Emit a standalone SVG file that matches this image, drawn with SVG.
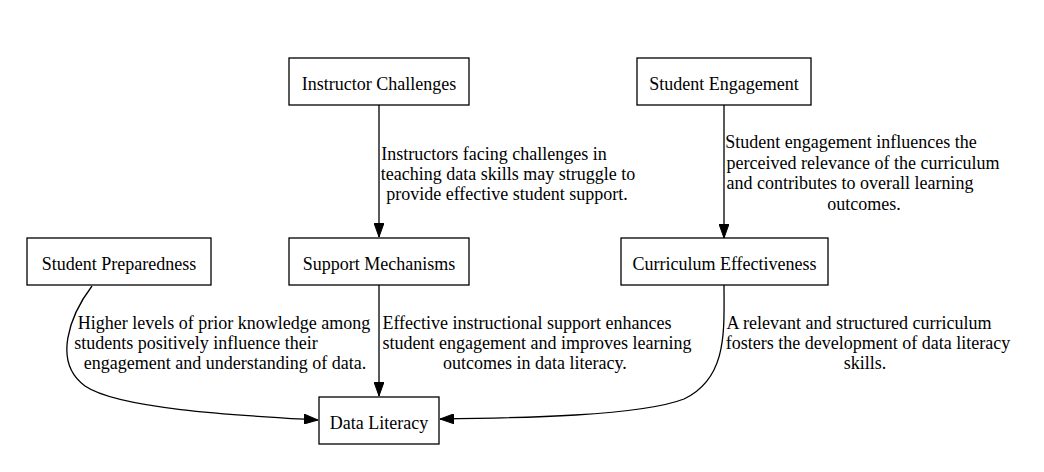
<svg xmlns="http://www.w3.org/2000/svg" width="1044" height="472" viewBox="0 0 1044 472">
<style>
.node rect{fill:#ffffff;stroke:#000000;stroke-width:1.3}
.node text{font-family:"Liberation Serif","Times New Roman",serif;font-size:18px;fill:#000;text-anchor:middle}
.lbl{font-family:"Liberation Serif","Times New Roman",serif;font-size:18px;fill:#000;text-anchor:middle}
.edge{fill:none;stroke:#000;stroke-width:1.3;marker-end:url(#arr)}
</style>
<defs>
<marker id="arr" viewBox="0 0 14 10" refX="14" refY="5" markerWidth="14" markerHeight="10" markerUnits="userSpaceOnUse" orient="auto">
<path d="M0,0 L14,5 L0,10 z" fill="#000" stroke="#000" stroke-width="1"/>
</marker>
</defs>
<rect width="1044" height="472" fill="#ffffff"/>
<g id="connectors">
<path class="edge" d="M379,105 L379,237"/>
<path class="edge" d="M724,105 L724,238"/>
<path class="edge" d="M92,286 C70,315 52,362 85,386 C120,410 250,416 318,420"/>
<path class="edge" d="M379,285 L379,396"/>
<path class="edge" d="M724,285 C724,330 728,378 684,399 C640,416 520,418 440,419"/>
<text class="lbl" x="494" y="160">Instructors facing challenges in</text>
<text class="lbl" x="508" y="180">teaching data skills may struggle to</text>
<text class="lbl" x="507" y="200">provide effective student support.</text>
<text class="lbl" x="851" y="148">Student engagement influences the</text>
<text class="lbl" x="863" y="169">perceived relevance of the curriculum</text>
<text class="lbl" x="850" y="189">and contributes to overall learning</text>
<text class="lbl" x="864" y="210">outcomes.</text>
<text class="lbl" x="224" y="329">Higher levels of prior knowledge among</text>
<text class="lbl" x="196" y="349">students positively influence their</text>
<text class="lbl" x="225" y="369">engagement and understanding of data.</text>
<text class="lbl" x="527" y="329">Effective instructional support enhances</text>
<text class="lbl" x="537" y="349">student engagement and improves learning</text>
<text class="lbl" x="535" y="369">outcomes in data literacy.</text>
<text class="lbl" x="859" y="329">A relevant and structured curriculum</text>
<text class="lbl" x="868" y="349">fosters the development of data literacy</text>
<text class="lbl" x="865" y="369">skills.</text>
</g>
<g id="instructor-challenges" class="node"><rect x="289" y="58" width="180" height="47"/><text x="379" y="89.5">Instructor Challenges</text></g>
<g id="student-engagement" class="node"><rect x="637" y="58" width="174" height="47"/><text x="724" y="89.5">Student Engagement</text></g>
<g id="student-preparedness" class="node"><rect x="27" y="238" width="184" height="47"/><text x="119" y="269.5">Student Preparedness</text></g>
<g id="support-mechanisms" class="node"><rect x="289" y="238" width="180" height="47"/><text x="379" y="269.5">Support Mechanisms</text></g>
<g id="curriculum-effectiveness" class="node"><rect x="621" y="238" width="207" height="47"/><text x="724.5" y="269.5">Curriculum Effectiveness</text></g>
<g id="data-literacy" class="node"><rect x="319" y="397" width="120" height="47"/><text x="379" y="428.5">Data Literacy</text></g>
</svg>
